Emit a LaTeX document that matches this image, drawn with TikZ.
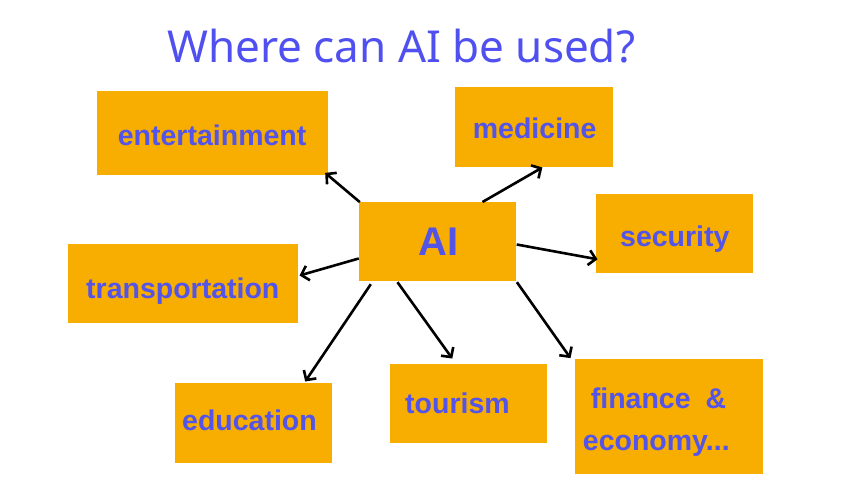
\documentclass[tikz,border=0pt]{standalone}
\usepackage{fontspec}
\setmainfont{Liberation Sans}
\newfontfamily\titlefont{Noto Sans}
\usetikzlibrary{arrows.meta}
\definecolor{boxorange}{RGB}{247,174,0}
\definecolor{labelblue}{RGB}{84,84,232}
\definecolor{titleblue}{RGB}{80,80,240}
\tikzset{
  box/.style={fill=boxorange, draw=none, inner sep=0pt, rectangle},
  lbl/.style={anchor=base west, inner sep=0pt, text=labelblue, font=\fontsize{28.5}{34}\selectfont\bfseries},
  conn/.style={line width=2.6pt, draw=black, -{Straight Barb[length=7pt,width=15pt,line width=2.6pt]}}
}
\begin{document}
\begin{tikzpicture}[x=1pt,y=-1pt]
\useasboundingbox (0,0) rectangle (860,484);
% title
\node[anchor=base west, inner sep=0pt, text=titleblue, font=\titlefont\fontsize{44}{52}\selectfont] (title) at (167,63) {Where can AI be used?};
% boxes
\node[box, minimum width=231pt, minimum height=84pt] (ent) at (212.2,132.7) {};
\node[box, minimum width=157.7pt, minimum height=79.4pt] (med) at (533.85,127) {};
\node[box, minimum width=157pt, minimum height=79pt] (ai) at (437.5,241.5) {};
\node[box, minimum width=157pt, minimum height=79pt] (sec) at (674.2,233.8) {};
\node[box, minimum width=230pt, minimum height=79pt] (trans) at (182.7,283.5) {};
\node[box, minimum width=157.3pt, minimum height=79.7pt] (edu) at (253.65,422.85) {};
\node[box, minimum width=157.3pt, minimum height=79.3pt] (tou) at (468.65,403.65) {};
\node[box, minimum width=188pt, minimum height=114.7pt] (fin) at (668.7,416.65) {};
% labels
\node[lbl] (entT) at (117.7,145.7) {entertainment};
\node[lbl] (medT) at (472.7,138.3) {medicine};
\node[lbl, font=\fontsize{40}{48}\selectfont\bfseries] (aiT) at (418,255) {AI};
\node[lbl] (secT) at (620,246.7) {security};
\node[lbl] (transT) at (86,298) {transportation};
\node[lbl] (eduT) at (182,430.7) {education};
\node[lbl] (touT) at (405,413) {tourism};
\node[lbl] (finT) at (590.7,408.3) {finance\hspace{15pt}\&};
\node[lbl] (ecoT) at (582.7,450.7) {economy...};
% connectors
\draw[conn] ([shift={(1,0.3)}]ai.north west) -- ([shift={(-2.7,-2)}]ent.south east);
\draw[conn] ([shift={(45,0.2)}]ai.north) -- ([shift={(8.5,0.6)}]med.south);
\draw[conn] ([shift={(0.5,3)}]ai.east) -- ([shift={(2,25.5)}]sec.west);
\draw[conn] ([shift={(0,17)}]ai.west) -- ([shift={(1.6,-8)}]trans.east);
\draw[conn] ([shift={(12,3)}]ai.south west) -- ([shift={(-27.3,-1.3)}]edu.north east);
\draw[conn] ([shift={(38.7,1)}]ai.south west) -- ([shift={(-16.4,-5.3)}]tou.north);
\draw[conn] ([shift={(0.7,1)}]ai.south east) -- ([shift={(-4,-1)}]fin.north west);
\end{tikzpicture}
\end{document}
